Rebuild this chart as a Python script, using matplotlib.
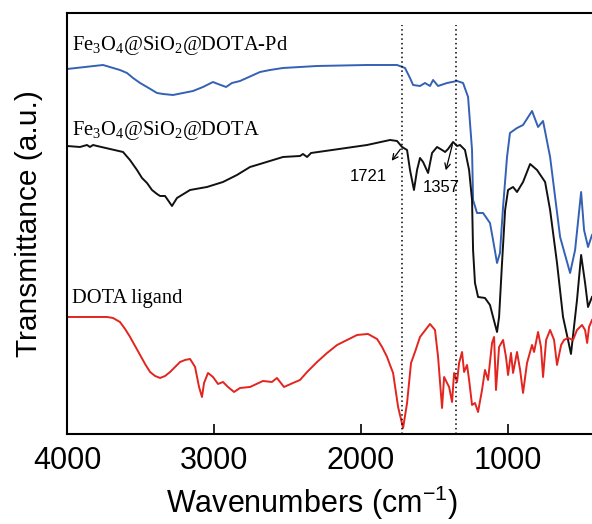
import numpy as np
import matplotlib.pyplot as plt

plt.rcParams['font.family'] = 'Liberation Sans'
plt.rcParams['mathtext.fontset'] = 'custom'
plt.rcParams['mathtext.rm'] = 'Liberation Serif'
plt.rcParams['mathtext.sf'] = 'Liberation Sans'

# Spektren (Wellenzahl in cm-1, Transmission in a.u., mit Versatz)
# Fe3O4@SiO2@DOTA-Pd
wn_pd = [4000, 3755, 3640, 3592, 3551, 3503, 3456, 3388, 3347, 3279, 3211, 3143,
         3075, 3007, 2973, 2918, 2878, 2823, 2687, 2619, 2531, 2415, 2299, 1959,
         1755, 1701, 1667, 1646, 1599, 1565, 1531, 1510, 1476, 1415, 1347, 1306,
         1272, 1245, 1238, 1211, 1170, 1123, 1102, 1075, 1055, 1034, 1007, 987,
         939, 898, 837, 796, 762, 714, 646, 578, 544, 503, 483, 456, 429]
t_pd = [365, 369, 364, 361, 356, 351, 347, 341, 340, 339, 341, 343,
        347, 352, 350, 347, 351, 353, 362, 364, 366, 367, 368, 369,
        369, 366, 356, 349, 348, 351, 348, 354, 348, 351, 353, 351,
        337, 284, 234, 221, 221, 211, 194, 171, 181, 227, 277, 301,
        306, 309, 323, 307, 313, 277, 197, 161, 184, 242, 204, 187, 199]

# Fe3O4@SiO2@DOTA
wn_dota = [4000, 3912, 3864, 3844, 3823, 3796, 3619, 3572, 3524, 3490, 3456, 3422,
           3388, 3367, 3333, 3286, 3252, 3163, 3048, 2939, 2844, 2755, 2687, 2531,
           2415, 2395, 2367, 2340, 2196, 1959, 1803, 1755, 1721, 1687, 1667, 1640,
           1619, 1599, 1578, 1544, 1517, 1483, 1449, 1428, 1408, 1374, 1347, 1327,
           1293, 1265, 1245, 1238, 1225, 1204, 1157, 1123, 1102, 1075, 1061, 1041,
           1020, 1000, 966, 939, 898, 850, 803, 748, 714, 667, 626, 592, 572, 531,
           503, 476, 456, 429]
t_dota = [288, 287, 289, 287, 289, 288, 282, 274, 264, 256, 251, 244,
          240, 238, 238, 228, 236, 244, 247, 252, 259, 267, 270, 277,
          278, 280, 277, 281, 284, 289, 294, 293, 287, 284, 264, 244,
          264, 276, 272, 261, 281, 287, 284, 282, 285, 292, 288, 289,
          284, 264, 234, 184, 151, 137, 136, 129, 117, 102, 117, 171,
          224, 244, 247, 242, 252, 270, 264, 252, 224, 171, 117, 94, 80, 134,
          179, 151, 127, 137]

# DOTA ligand
wn_lig = [4000, 3728, 3687, 3640, 3605, 3571, 3537, 3503, 3469, 3435, 3401, 3367,
          3333, 3299, 3265, 3231, 3197, 3163, 3129, 3102, 3082, 3068, 3041, 3007,
          2973, 2939, 2905, 2864, 2823, 2755, 2667, 2606, 2572, 2524, 2463, 2415,
          2367, 2299, 2231, 2163, 2095, 2027, 1953, 1891, 1857, 1823, 1803, 1782,
          1748, 1714, 1687, 1660, 1633, 1599, 1531, 1497, 1476, 1449, 1435, 1415,
          1401, 1381, 1367, 1347, 1333, 1313, 1299, 1279, 1265, 1245, 1225, 1204,
          1177, 1157, 1136, 1109, 1095, 1082, 1061, 1034, 1014, 1000, 980, 966,
          939, 918, 898, 871, 837, 823, 796, 776, 762, 741, 714, 687, 667, 639,
          619, 592, 558, 531, 497, 476, 462, 449, 429]
t_lig = [117, 117, 116, 112, 105, 97, 88, 79, 70, 62, 58, 56,
         58, 62, 67, 72, 74, 75, 67, 47, 37, 51, 61, 57,
         50, 52, 47, 42, 46, 47, 53, 52, 56, 47, 51, 54,
         62, 72, 81, 89, 94, 99, 100, 95, 87, 77, 69, 61,
         27, 6, 31, 71, 82, 97, 110, 104, 77, 26, 57, 51,
         47, 32, 61, 52, 71, 82, 62, 69, 54, 29, 31, 22,
         44, 64, 54, 91, 97, 44, 87, 94, 77, 59, 81, 61,
         82, 64, 41, 71, 89, 82, 102, 87, 57, 94, 104, 94, 69, 89,
         94, 96, 94, 104, 109, 104, 91, 107, 114]

fig = plt.figure(figsize=(5.92, 5.24), dpi=100)
ax = fig.add_axes([0.1132, 0.1718, 0.8868, 0.8034])

ax.plot(wn_pd, t_pd, color='#3461b4', lw=1.4, solid_joinstyle='round')
ax.plot(wn_dota, t_dota, color='#111111', lw=1.4, solid_joinstyle='round')
ax.plot(wn_lig, t_lig, color='#e3241f', lw=1.4, solid_joinstyle='round')

# Linien bei 1721 und 1357
for w in [1721, 1357]:
    ax.plot([w, w], [0, 409], color='k', lw=1.1, linestyle=(0, (1, 2)))

# Pfeile
ax.annotate('', xy=(1803, 271), xytext=(1721, 287),
            arrowprops=dict(arrowstyle='->', lw=0.9, color='k'))
ax.annotate('', xy=(1428, 261), xytext=(1374, 292),
            arrowprops=dict(arrowstyle='->', lw=0.9, color='k'))
ax.text(1952, 257, '1721', ha='center', va='center', fontsize=12)
ax.text(1456, 246, '1357', ha='center', va='center', fontsize=12)

# Beschriftung der Kurven
ax.text(3966, 384, 'Fe$_3$O$_4$@SiO$_2$@DOTA-Pd', family='Liberation Serif',
        fontsize=14.8, va='baseline')
ax.text(3966, 299, 'Fe$_3$O$_4$@SiO$_2$@DOTA', family='Liberation Serif',
        fontsize=14.8, va='baseline')
ax.text(3966, 131, 'DOTA ligand', family='Liberation Serif',
        fontsize=14.8, va='baseline')

ax.set_xlim(4000, 429)
ax.set_ylim(0, 421)
ax.set_xticks([4000, 3000, 2000, 1000])
ax.set_yticks([])
ax.tick_params(axis='x', direction='in', length=7, width=1.2, labelsize=22, pad=9)
for s in ['left', 'bottom', 'top']:
    ax.spines[s].set_linewidth(1.5)
ax.spines['right'].set_visible(False)

fig.text(312 / 592, 2 / 524, 'Wavenumbers (cm$^{\\mathsf{-1}}$)', fontsize=22,
         ha='center', va='bottom')
ax.set_ylabel('Transmittance (a.u.)', fontsize=21.5, labelpad=17)

plt.savefig('out.png', dpi=100)
